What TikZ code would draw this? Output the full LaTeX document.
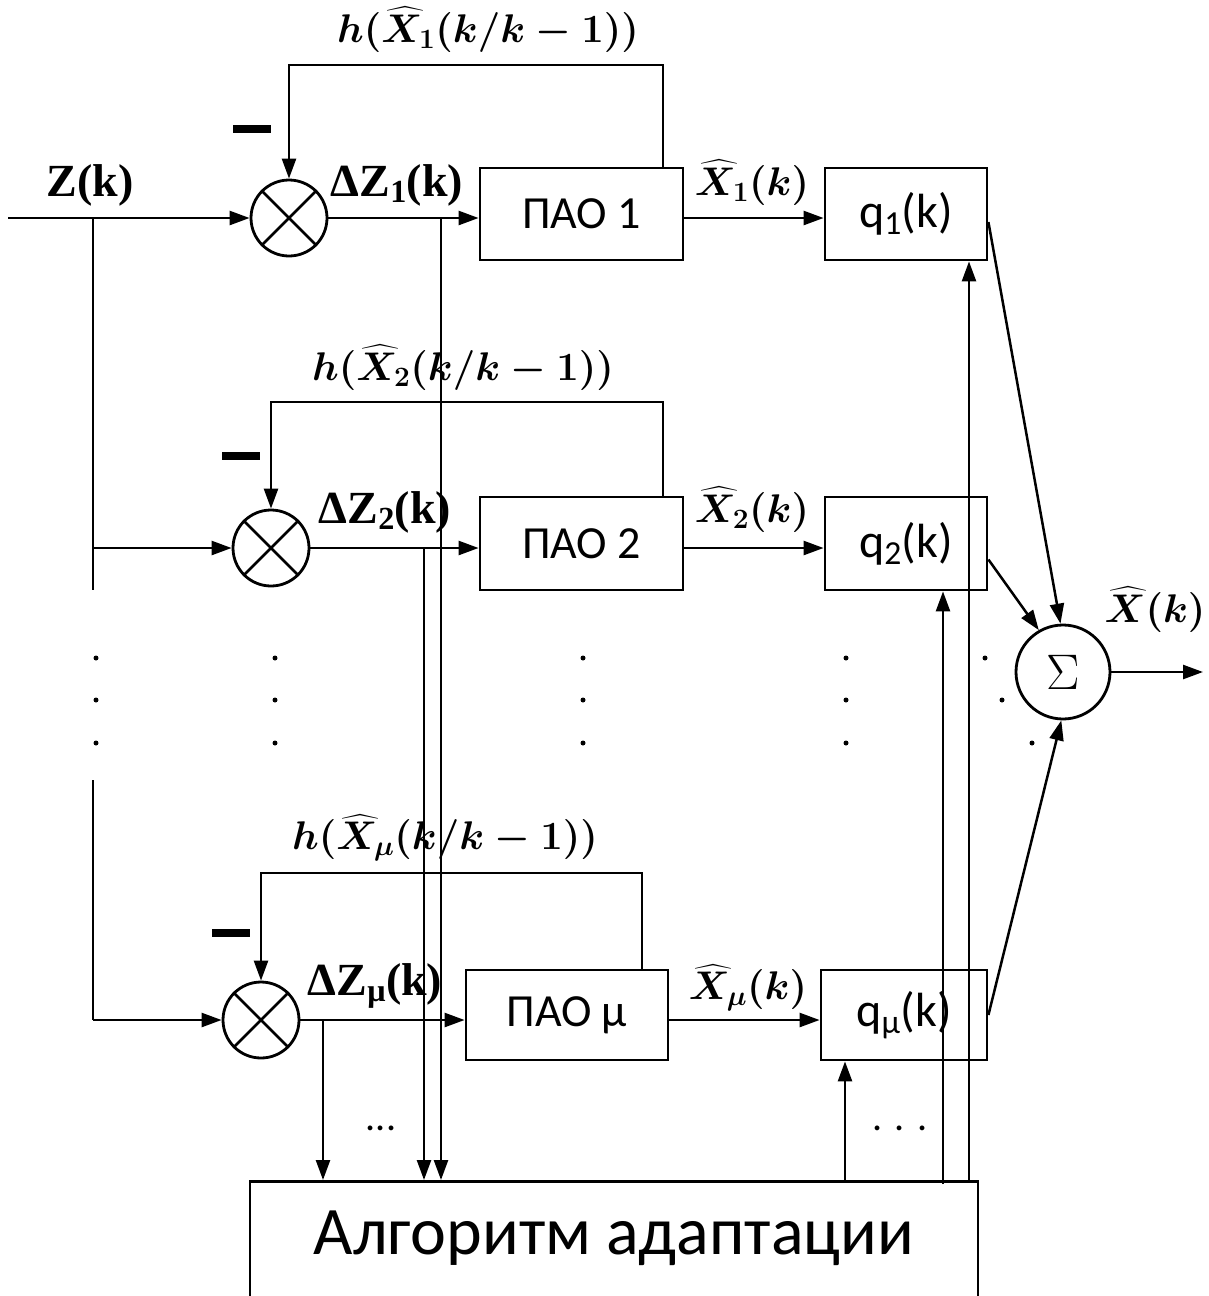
\RequirePackage{fix-cm}
\documentclass[tikz,border=0pt]{standalone}
\usepackage{amsmath}
\usepackage{fontspec}
\setmainfont{Liberation Serif}
\setsansfont{Carlito}
\usetikzlibrary{arrows.meta}
\tikzset{
 ln/.style={line width=2.5pt},
 arr/.style={ln, -{Triangle[length=20pt,width=14pt]}},
 blk/.style={draw, line width=2.8pt, rectangle, inner sep=0pt, font=\sffamily\fontsize{46}{50}\selectfont},
 qblk/.style={blk, font=\sffamily\fontsize{48}{52}\selectfont},
 mul/.style={draw, circle, line width=2.8pt, minimum size=76pt, inner sep=0pt},
 lab/.style={inner sep=0pt, font=\bfseries\fontsize{46}{50}\selectfont},
 mlab/.style={inner sep=0pt, font=\fontsize{40}{44}\selectfont\boldmath},
 minusbar/.style={fill, minimum width=38pt, minimum height=8pt, inner sep=0pt},
 dotm/.style={circle, fill, inner sep=0pt, minimum size=5pt},
 ell/.style={inner sep=0pt, font=\sffamily\fontsize{40}{44}\selectfont},
}
\begin{document}
\begin{tikzpicture}[x=1pt,y=-1pt]
\useasboundingbox (0,0) rectangle (1209,1296);
\clip (0,0) rectangle (1209,1296);
% multipliers
\node[mul] (s1) at (289,218) {};
\node[mul] (s2) at (271,548) {};
\node[mul] (sm) at (261,1020) {};
\foreach \s in {s1,s2,sm}{\draw[ln] (\s.45) -- (\s.225) (\s.135) -- (\s.315);}
% blocks
\node[blk, minimum width=203pt, minimum height=92pt] (p1) at (581.5,214) {ПАО 1};
\node[blk, minimum width=203pt, minimum height=93pt] (p2) at (581.5,543.5) {ПАО 2};
\node[blk, minimum width=202pt, minimum height=90pt] (pm) at (567,1015) {ПАО μ};
\node[qblk, minimum width=162pt, minimum height=92pt] (q1) at (906,214) {q\textsubscript{1}(k)};
\node[qblk, minimum width=162pt, minimum height=93pt] (q2) at (906,543.5) {q\textsubscript{2}(k)};
\node[qblk, minimum width=166pt, minimum height=90pt] (qm) at (904,1015) {q\textsubscript{μ}(k)};
\node[draw, circle, line width=2.8pt, minimum size=94pt, inner sep=0pt, font=\fontsize{50}{54}\selectfont] (sum) at (1063,672) {$\Sigma$};
\node[draw, line width=2.8pt, minimum width=728pt, minimum height=160pt, anchor=north] (alg) at (614,1180) {};
\node[inner sep=0pt, font=\sffamily\fontsize{68}{72}\selectfont] (algt) at (614,1238) {Алгоритм адаптации};
% input and bus
\coordinate (in) at (8,218);
\coordinate (b1) at (93,218);
\coordinate (b2) at (93,590);
\coordinate (b2a) at (93,548);
\coordinate (b3) at (93,780);
\coordinate (b4) at (93,1020);
\draw[arr] (in) -- (s1.west);
\draw[ln] (b1) -- (b2);
\draw[ln] (b3) -- (b4);
\draw[arr] (b2a) -- (s2.west);
\draw[arr] (b4) -- (sm.west);
% forward paths
\draw[arr] (s1.east) -- (s1.east -| p1.west);
\draw[arr] (s2.east) -- (s2.east -| p2.west);
\draw[arr] (sm.east) -- (sm.east -| pm.west);
\draw[arr] (p1.east |- s1) -- (q1.west |- s1);
\draw[arr] (p2.east |- s2) -- (q2.west |- s2);
\draw[arr] (pm.east |- sm) -- (qm.west |- sm);
% feedback
\coordinate (f1) at (663,65);
\coordinate (f2) at (663,402);
\coordinate (fm) at (642,873);
\draw[arr] (f1 |- p1.north) -- (f1) -| (s1.north);
\draw[arr] (f2 |- p2.north) -- (f2) -| (s2.north);
\draw[arr] (fm |- pm.north) -- (fm) -| (sm.north);
% to adaptation
\coordinate (d1) at (441,218);
\coordinate (d2) at (424,548);
\coordinate (dm) at (323,1020);
\draw[arr] (d1) -- (d1 |- alg.north);
\draw[arr] (d2) -- (d2 |- alg.north);
\draw[arr] (dm) -- (dm |- alg.north);
% from adaptation
\coordinate (u1) at (969,1180);
\coordinate (u2) at (943,1184);
\coordinate (um) at (845,1180);
\draw[arr] (u1) -- (u1 |- q1.south);
\draw[arr] (u2) -- (u2 |- q2.south);
\draw[arr] (um) -- (um |- qm.south);
% to sum
\draw[arr] ([yshift=-8pt]q1.east) -- (sum.93);
\draw[arr] ([yshift=-16pt]q2.east) -- (sum.120);
\draw[arr] (qm.east) -- (sum.268);
\coordinate (out) at (1203,672);
\draw[arr] (sum.east) -- (out);
% labels
\node[lab] (lz) at (90,185) {Z(k)};
\node[lab] (ldz1) at (397,185) {ΔZ\textsubscript{1}(k)};
\node[lab] (ldz2) at (385,512) {ΔZ\textsubscript{2}(k)};
\node[lab] (ldzm) at (375,986) {ΔZ\textsubscript{μ}(k)};
\node[mlab] (lh1) at (488,30) {$h(\widehat{X}_{\mathbf{1}}(k/k-\mathbf{1}))$};
\node[mlab] (lh2) at (463,368) {$h(\widehat{X}_{\mathbf{2}}(k/k-\mathbf{1}))$};
\node[mlab] (lhm) at (445,838) {$h(\widehat{X}_{\mu}(k/k-\mathbf{1}))$};
\node[mlab] (lx1) at (752,183) {$\widehat{X}_{\mathbf{1}}(k)$};
\node[mlab] (lx2) at (752,510) {$\widehat{X}_{\mathbf{2}}(k)$};
\node[mlab] (lxm) at (748,988) {$\widehat{X}_{\mu}(k)$};
\node[mlab] (lx) at (1155,610) {$\widehat{X}(k)$};
% minus signs
\node[minusbar] (m1) at (252,129) {};
\node[minusbar] (m2) at (241,456) {};
\node[minusbar] (mm) at (231,933) {};
% dots
\foreach \x in {96,275,583,846}{\foreach \y in {658,700,743}{\node[dotm] at (\x,\y) {};}}
\node[dotm] (dg1) at (985,658) {};
\node[dotm] (dg2) at (1002,700) {};
\node[dotm] (dg3) at (1032,743) {};
\node[ell] (e1) at (381,1128) {...};
\node[ell] (e2) at (900,1128) {. . .};
\end{tikzpicture}
\end{document}
